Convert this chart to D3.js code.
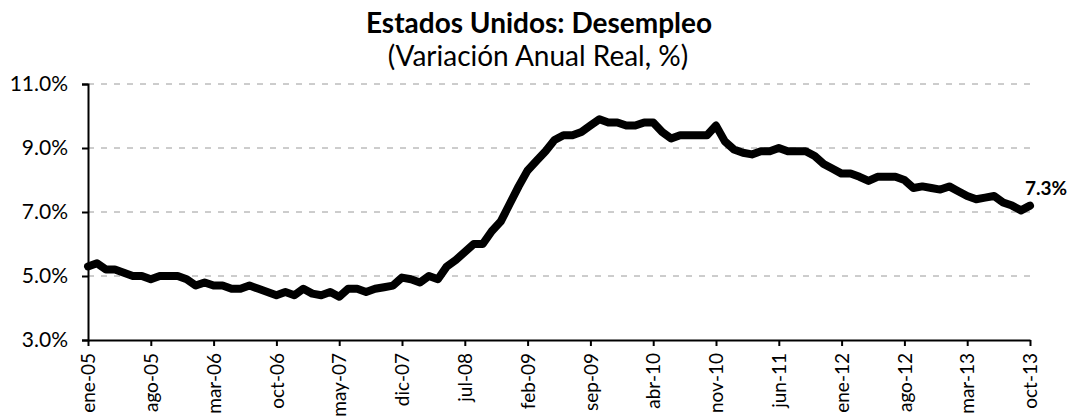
<!DOCTYPE html>
<html>
<head>
<meta charset="utf-8">
<script src="https://cdn.jsdelivr.net/npm/d3@7"></script>
<style>
  html, body { margin: 0; padding: 0; background: #fff; }
  svg { display: block; font-family: Lato, "Open Sans", sans-serif; }
</style>
</head>
<body>
<svg id="chart" width="1069" height="419"></svg>
<script>
// ---- Data ----
const monthNames = ["ene","feb","mar","abr","may","jun","jul","ago","sep","oct","nov","dic"];
const startYear = 2005;
const unemployment = [
  // 2005
  5.3, 5.4, 5.2, 5.2, 5.1, 5.0, 5.0, 4.9, 5.0, 5.0, 5.0, 4.9,
  // 2006
  4.7, 4.8, 4.7, 4.7, 4.6, 4.6, 4.7, 4.6, 4.5, 4.4, 4.5, 4.4,
  // 2007
  4.6, 4.45, 4.4, 4.5, 4.35, 4.6, 4.6, 4.5, 4.6, 4.65, 4.7, 4.95,
  // 2008
  4.9, 4.8, 5.0, 4.9, 5.3, 5.5, 5.75, 6.0, 6.0, 6.4, 6.7, 7.25,
  // 2009
  7.8, 8.3, 8.6, 8.9, 9.25, 9.4, 9.4, 9.5, 9.7, 9.9, 9.8, 9.8,
  // 2010
  9.7, 9.7, 9.8, 9.8, 9.5, 9.3, 9.4, 9.4, 9.4, 9.4, 9.7, 9.2,
  // 2011
  8.95, 8.85, 8.8, 8.9, 8.9, 9.0, 8.9, 8.9, 8.9, 8.75, 8.5, 8.35,
  // 2012
  8.2, 8.2, 8.1, 7.97, 8.1, 8.1, 8.1, 8.0, 7.75, 7.8, 7.75, 7.7,
  // 2013
  7.8, 7.65, 7.5, 7.4, 7.45, 7.5, 7.3, 7.2, 7.05, 7.2
];
const categories = unemployment.map((_, i) =>
  monthNames[i % 12] + "-" + String((startYear + Math.floor(i / 12)) % 100).padStart(2, "0"));
const xTickLabels = ["ene-05","ago-05","mar-06","oct-06","may-07","dic-07","jul-08","feb-09",
                     "sep-09","abr-10","nov-10","jun-11","ene-12","ago-12","mar-13","oct-13"];
const yTicks = [3, 5, 7, 9, 11];
const lastLabel = "7.3%";
const title = "Estados Unidos: Desempleo";
const subtitle = "(Variación Anual Real, %)";

// ---- Layout ----
const svg = d3.select("#chart");
const mLeft = 88, mRight = 1030, mTop = 84, mBottom = 340;

const x = d3.scalePoint().domain(categories).range([mLeft, mRight]);
const y = d3.scaleLinear().domain([3, 11]).range([mBottom, mTop]);

// gridlines
svg.append("g").selectAll("line")
  .data(yTicks.filter(d => d > 3))
  .join("line")
  .attr("x1", mLeft).attr("x2", mRight)
  .attr("y1", d => y(d)).attr("y2", d => y(d))
  .attr("stroke", "#9a9a9a")
  .attr("stroke-width", 1)
  .attr("stroke-dasharray", "6,7");

// y axis
const yAxis = d3.axisLeft(y).tickValues(yTicks).tickFormat(d => d3.format(".1f")(d) + "%").tickSize(6).tickPadding(14);
const gy = svg.append("g").attr("transform", `translate(${mLeft},0)`).call(yAxis);
gy.select(".domain").attr("stroke", "#000").attr("stroke-width", 2);
gy.selectAll(".tick line").attr("stroke", "#000").attr("stroke-width", 2);
gy.selectAll(".tick text").attr("font-size", 21).attr("fill", "#000").attr("font-family", "Lato, sans-serif");

// x axis
const xAxis = d3.axisBottom(x).tickValues(xTickLabels).tickSize(6).tickSizeOuter(0);
const gx = svg.append("g").attr("transform", `translate(0,${mBottom})`).call(xAxis);
gx.select(".domain").attr("stroke", "#000").attr("stroke-width", 2);
gx.selectAll(".tick line").attr("stroke", "#000").attr("stroke-width", 2);
gx.selectAll(".tick text")
  .attr("font-size", 19).attr("fill", "#000").attr("font-family", "Lato, sans-serif")
  .attr("text-anchor", "end")
  .attr("transform", "rotate(-90)")
  .attr("x", -13).attr("y", 0).attr("dy", "0.35em");

// line
const line = d3.line()
  .x((d, i) => x(categories[i]))
  .y(d => y(d));
svg.append("path")
  .datum(unemployment)
  .attr("d", line)
  .attr("fill", "none")
  .attr("stroke", "#000")
  .attr("stroke-width", 8)
  .attr("stroke-linejoin", "round")
  .attr("stroke-linecap", "round");

// last value label
const lastIdx = unemployment.length - 1;
svg.append("text")
  .attr("x", x(categories[lastIdx]) - 5)
  .attr("y", y(unemployment[lastIdx]) - 11)
  .attr("font-size", 19).attr("font-weight", "bold")
  .attr("font-family", "Lato, sans-serif")
  .text(lastLabel);

// titles
svg.append("text")
  .attr("x", 539).attr("y", 33)
  .attr("text-anchor", "middle")
  .attr("font-size", 28).attr("font-weight", "bold")
  .text(title);
svg.append("text")
  .attr("x", 538).attr("y", 66)
  .attr("text-anchor", "middle")
  .attr("font-size", 28)
  .text(subtitle);
</script>
</body>
</html>
